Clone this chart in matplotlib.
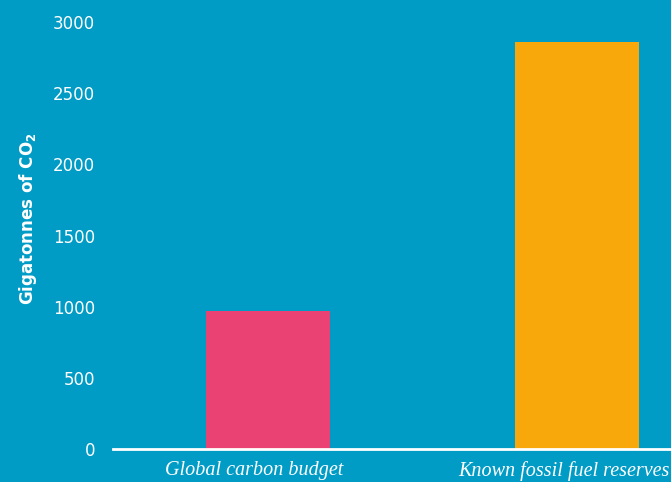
import matplotlib.pyplot as plt
from matplotlib.transforms import ScaledTranslation

categories = ["Global carbon budget", "Known fossil fuel reserves"]
values = [970, 2860]
bar_colors = ["#EA4272", "#F8A80A"]
yticks = [0, 500, 1000, 1500, 2000, 2500, 3000]

bg = "#009CC6"

fig = plt.figure(figsize=(6.71, 4.82), dpi=100, facecolor=bg)
ax = fig.add_axes([113/671, 33/482, 1 - 113/671, (449 - 22)/482])
ax.set_facecolor(bg)

x = list(range(len(categories)))
ax.bar(x, values, width=0.4, color=bar_colors, zorder=2)

ax.set_xlim(-0.5, 1.304)
ax.set_ylim(0, 3000)
ax.set_yticks(yticks)
ax.set_yticklabels([str(v) for v in yticks], color="white", fontsize=12,
                   fontfamily="DejaVu Sans")
ax.set_xticks(x)
ax.set_xticklabels(categories, color="white", fontsize=14.5, style="italic",
                   fontfamily="Liberation Serif")
ax.tick_params(axis="y", length=0, pad=13)
ax.tick_params(axis="x", length=0, pad=9)

# labels sit a little left of their bars in the original
for lbl in ax.get_xticklabels():
    lbl.set_transform(lbl.get_transform() + ScaledTranslation(-0.13, 0, fig.dpi_scale_trans))

for s in ["top", "right", "left"]:
    ax.spines[s].set_visible(False)
ax.spines["bottom"].set_color("white")
ax.spines["bottom"].set_linewidth(2)
ax.spines["bottom"].set_zorder(3)

fig.text(28/671, 1 - 219/482, r"Gigatonnes of CO$_\mathbf{2}$", rotation=90,
         color="white", fontsize=12, fontweight="bold", fontfamily="DejaVu Sans",
         ha="center", va="center")

fig.savefig("out.png", dpi=100, facecolor=bg)
